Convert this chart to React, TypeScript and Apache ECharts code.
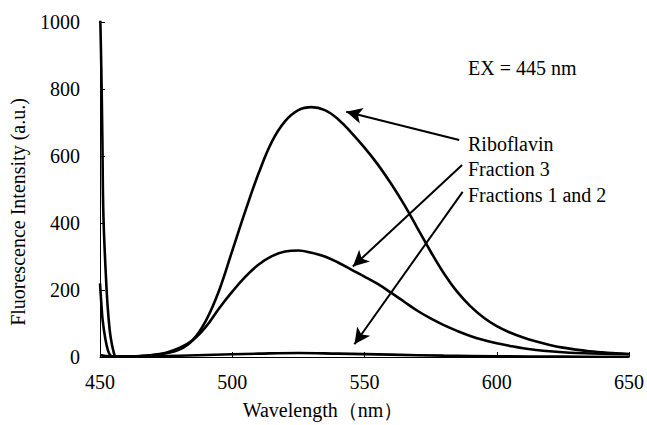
import React, { useEffect, useRef } from "react";
import * as echarts from "echarts";

// Wavelength (nm) / intensity (a.u.) pairs
const riboflavinX = [450, 450.5, 450.9, 451.3, 452.5, 453.2, 454, 455.3, 456, 460, 465, 470, 475, 480, 485, 490, 495, 500, 505, 510, 515, 520, 525, 530, 535, 540, 545, 550, 555, 560, 565, 570, 575, 580, 585, 590, 595, 600, 605, 610, 615, 620, 625, 630, 635, 640, 645, 650];
const riboflavinY = [1050, 860, 650, 420, 200, 120, 60, 10, 2, 1, 3, 6, 11, 22, 50, 108, 198, 317, 437, 549, 643, 704, 737, 746, 737, 710, 670, 625, 575, 518, 455, 385, 315, 250, 195, 152, 118, 92, 73, 58, 46, 36, 28, 22, 17, 14, 11, 9];

const fraction3X = [450, 450.5, 451, 452, 453, 454, 455, 460, 465, 470, 475, 480, 485, 490, 495, 500, 505, 510, 515, 520, 525, 530, 535, 540, 545, 550, 555, 560, 565, 570, 575, 580, 585, 590, 595, 600, 605, 610, 615, 620, 625, 630, 640, 650];
const fraction3Y = [220, 160, 110, 55, 20, 4, 1, 1, 2, 6, 13, 27, 50, 90, 145, 195, 240, 276, 301, 315, 318, 311, 300, 282, 261, 240, 218, 192, 165, 138, 115, 95, 78, 63, 51, 41, 33, 26, 21, 17, 14, 12, 10, 8];

const fractions12X = [450, 452, 455, 470, 490, 510, 525, 540, 560, 580, 600, 625, 650];
const fractions12Y = [6, 3, 1, 2, 6, 10, 12, 10, 7, 4, 2, 1, 0];

const xTicks = { min: 450, max: 650, interval: 50 };
const yTicks = { min: 0, max: 1000, interval: 200 };

const annotationTexts = ["EX = 445 nm", "Riboflavin", "Fraction 3", "Fractions 1 and 2"];
const xAxisTitle = "Wavelength（nm）";
const yAxisTitle = "Fluorescence Intensity (a.u.)";

// arrows: [tailX, tailY, tipX, tipY] in data coordinates
const arrows = [
  [585.8, 648, 543.1, 732],
  [586.9, 573, 545.6, 270],
  [587.1, 493, 546.2, 38],
];

const zip = (xs: number[], ys: number[]) => xs.map((x, i) => [x, ys[i]]);

const FONT = '"Liberation Serif", "Times New Roman", serif';

export default function App() {
  const ref = useRef<HTMLDivElement>(null);
  useEffect(() => {
    if (!ref.current) return;
    const chart = echarts.init(ref.current, null, { renderer: "svg" });
    const lineCommon = {
      type: "line" as const,
      showSymbol: false,
      symbol: "none",
      smooth: 0.4,
      clip: true,
      lineStyle: { color: "#000", width: 2.6 },
      itemStyle: { color: "#000" },
    };
    const textEl = (text: string, x: number, y: number, extra: any = {}) => ({
      type: "text",
      x,
      y,
      ...extra,
      style: {
        text,
        fill: "#000",
        fontSize: 20,
        fontFamily: FONT,
        textVerticalAlign: "middle",
        ...(extra.style || {}),
      },
    });
    chart.setOption({
      animation: false,
      backgroundColor: "#fff",
      grid: { left: 100, right: 17, top: 22, bottom: 68, containLabel: false },
      xAxis: {
        type: "value",
        ...xTicks,
        axisLine: { show: true, lineStyle: { color: "#000", width: 1 } },
        axisTick: { show: true, inside: true, length: 5, lineStyle: { color: "#000" } },
        axisLabel: { color: "#000", fontSize: 20, fontFamily: FONT, margin: 15, formatter: (v: number) => String(v) },
        splitLine: { show: false },
      },
      yAxis: {
        type: "value",
        ...yTicks,
        axisLine: { show: true, lineStyle: { color: "#000", width: 1 } },
        axisTick: { show: true, inside: true, length: 5, lineStyle: { color: "#000" } },
        axisLabel: { color: "#000", fontSize: 20, fontFamily: FONT, margin: 20, formatter: (v: number) => String(v) },
        splitLine: { show: false },
      },
      series: [
        {
          ...lineCommon,
          name: "Fractions 1 and 2",
          data: zip(fractions12X, fractions12Y),
          markLine: {
            silent: true,
            symbol: ["none", "arrow"],
            symbolSize: [12, 16],
            label: { show: false },
            lineStyle: { color: "#000", width: 2, type: "solid" },
            data: arrows.map((a) => [
              { coord: [a[0], a[1]] },
              { coord: [a[2], a[3]] },
            ]),
          },
        },
        { ...lineCommon, name: "Fraction 3", data: zip(fraction3X, fraction3Y) },
        { ...lineCommon, name: "Riboflavin", data: zip(riboflavinX, riboflavinY) },
      ],
      graphic: [
        textEl(annotationTexts[0], 468, 68),
        textEl(annotationTexts[1], 468, 144),
        textEl(annotationTexts[2], 468, 169),
        textEl(annotationTexts[3], 468, 195),
        textEl(xAxisTitle, 323, 410, { style: { textAlign: "center" } }),
        textEl(yAxisTitle, 18, 212, { rotation: Math.PI / 2, style: { textAlign: "center" } }),
      ],
    });
    return () => chart.dispose();
  }, []);
  return <div ref={ref} style={{ width: 647, height: 425, position: "absolute", left: 0, top: 0 }} />;
}
